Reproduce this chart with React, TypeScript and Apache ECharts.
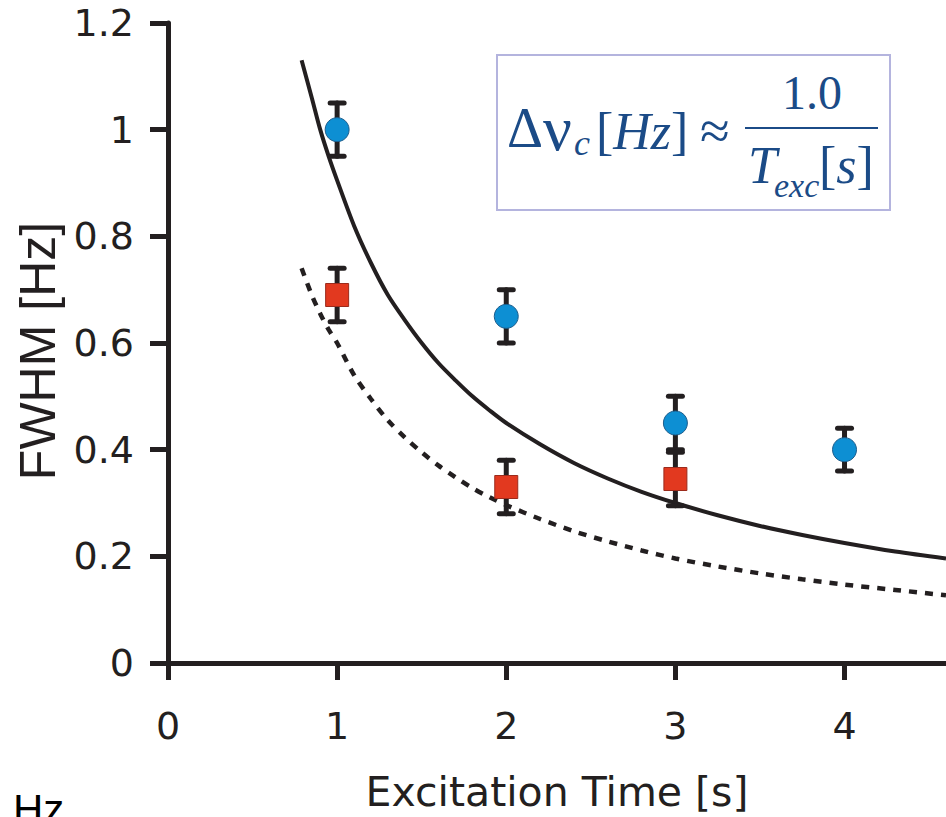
import React, { useEffect, useRef } from "react";
import * as echarts from "echarts";

// Measured points (excitation time in s, FWHM in Hz)
const blueX = [1, 2, 3, 4];
const blueY = [1.0, 0.65, 0.45, 0.4];
const blueErr = [0.05, 0.05, 0.05, 0.04];

const redX = [1, 2, 3];
const redY = [0.69, 0.33, 0.345];
const redErr = [0.05, 0.05, 0.05];

// Curves
const curveX = [0.79, 0.85, 0.9, 0.95, 1.0, 1.1, 1.2, 1.3, 1.4, 1.5, 1.6, 1.7, 1.8, 1.9, 2.0, 2.2, 2.4, 2.6, 2.8, 3.0, 3.25, 3.5, 3.75, 4.0, 4.3, 4.6];
const solidY = [1.13, 1.06, 1.0, 0.95, 0.905, 0.82, 0.75, 0.69, 0.643, 0.6, 0.562, 0.53, 0.5, 0.474, 0.45, 0.41, 0.375, 0.346, 0.321, 0.3, 0.277, 0.257, 0.24, 0.225, 0.209, 0.196];
const dashedY = [0.74, 0.69, 0.655, 0.625, 0.6, 0.54, 0.495, 0.455, 0.423, 0.395, 0.37, 0.348, 0.328, 0.311, 0.296, 0.27, 0.247, 0.228, 0.211, 0.196, 0.181, 0.168, 0.157, 0.147, 0.137, 0.127];

const xLabel = "Excitation Time [s]";
const yLabel = "FWHM [Hz]";

const ink = "#231f20";
const formulaColor = "#1b4b87";

function errorSeries(xs: number[], ys: number[], errs: number[]) {
  return xs.map((x, i) => [x, ys[i] - errs[i], ys[i] + errs[i]]);
}

export default function App() {
  const ref = useRef<HTMLDivElement>(null);

  useEffect(() => {
    document.body.style.margin = "0";
    const chart = echarts.init(ref.current!, undefined, { renderer: "svg" });

    const renderErr = (params: any, api: any) => {
      const x = api.value(0);
      const lo = api.value(1);
      const hi = api.value(2);
      const pLo = api.coord([x, lo]);
      const pHi = api.coord([x, hi]);
      const half = 7;
      const style = { stroke: ink, lineWidth: 5, lineCap: "round" };
      return {
        type: "group",
        children: [
          { type: "line", shape: { x1: pLo[0], y1: pLo[1], x2: pHi[0], y2: pHi[1] }, style },
          { type: "line", shape: { x1: pLo[0] - half, y1: pLo[1], x2: pLo[0] + half, y2: pLo[1] }, style },
          { type: "line", shape: { x1: pHi[0] - half, y1: pHi[1], x2: pHi[0] + half, y2: pHi[1] }, style },
        ],
      };
    };

    const serif = '"Liberation Serif", "Times New Roman", serif';

    chart.setOption({
      animation: false,
      backgroundColor: "#ffffff",
      grid: { left: 168, right: 0, top: 23, bottom: 154, containLabel: false },
      xAxis: {
        type: "value",
        min: 0,
        max: 4.6,
        interval: 1,
        name: xLabel,
        nameLocation: "middle",
        nameGap: 108,
        nameTextStyle: { fontFamily: "DejaVu Sans", fontSize: 41, lineHeight: 41, color: ink },
        axisLine: { lineStyle: { color: ink, width: 5 } },
        axisTick: { length: 17, lineStyle: { color: ink, width: 5 } },
        axisLabel: {
          fontFamily: "DejaVu Sans",
          fontSize: 38,
          lineHeight: 38,
          color: ink,
          margin: 44,
          showMaxLabel: false,
        },
        splitLine: { show: false },
      },
      yAxis: {
        type: "value",
        min: 0,
        max: 1.2,
        interval: 0.2,
        name: yLabel,
        nameLocation: "middle",
        nameGap: 98,
        nameTextStyle: {
          fontFamily: "Liberation Sans",
          fontSize: 50,
          lineHeight: 50,
          color: ink,
          padding: [0, 16, 0, 0],
        },
        axisLine: { show: true, lineStyle: { color: ink, width: 5 } },
        axisTick: { show: true, length: 18, lineStyle: { color: ink, width: 5 } },
        axisLabel: {
          fontFamily: "DejaVu Sans",
          fontSize: 38,
          lineHeight: 38,
          color: ink,
          margin: 34,
        },
        splitLine: { show: false },
      },
      series: [
        {
          type: "line",
          data: curveX.map((x, i) => [x, solidY[i]]),
          showSymbol: false,
          smooth: 0.3,
          lineStyle: { color: ink, width: 4 },
          z: 2,
        },
        {
          type: "line",
          data: curveX.map((x, i) => [x, dashedY[i]]),
          showSymbol: false,
          smooth: 0.3,
          lineStyle: { color: ink, width: 4.5, type: [8, 8] },
          z: 2,
        },
        {
          type: "custom",
          renderItem: renderErr,
          data: errorSeries(blueX, blueY, blueErr),
          encode: { x: 0, y: [1, 2] },
          z: 3,
        },
        {
          type: "custom",
          renderItem: renderErr,
          data: errorSeries(redX, redY, redErr),
          encode: { x: 0, y: [1, 2] },
          z: 3,
        },
        {
          type: "scatter",
          data: blueX.map((x, i) => [x, blueY[i]]),
          symbol: "circle",
          symbolSize: 24,
          itemStyle: { color: "#0d8fd3", borderColor: "#1d5d8c", borderWidth: 1, opacity: 1 },
          z: 4,
        },
        {
          type: "scatter",
          data: redX.map((x, i) => [x, redY[i]]),
          symbol: "rect",
          symbolSize: 23,
          itemStyle: { color: "#e2391f", borderColor: "#9b2b1c", borderWidth: 1, opacity: 1 },
          z: 4,
        },
      ],
      graphic: [
        {
          type: "rect",
          shape: { x: 497, y: 55, width: 393, height: 155 },
          style: { fill: "#ffffff", stroke: "#b4b4de", lineWidth: 2 },
          z: 10,
        },
        {
          type: "text",
          x: 507,
          y: 128,
          z: 11,
          style: {
            text: "{d|Δ}{v|ν}",
            fill: formulaColor,
            align: "left",
            verticalAlign: "middle",
            rich: {
              d: { fontFamily: serif, fontSize: 56, fill: formulaColor, color: formulaColor },
              v: { fontFamily: serif, fontSize: 64, fill: formulaColor, color: formulaColor },
            },
          },
        },
        {
          type: "text",
          x: 574,
          y: 143,
          z: 11,
          style: { text: "c", fontFamily: serif, fontStyle: "italic", fontSize: 36, fill: formulaColor, align: "left", verticalAlign: "middle" },
        },
        {
          type: "text",
          x: 596,
          y: 131,
          z: 11,
          style: {
            text: "{n|[}{i|Hz}{n|]}",
            fill: formulaColor,
            align: "left",
            verticalAlign: "middle",
            rich: {
              n: { fontFamily: serif, fontSize: 52, fill: formulaColor, color: formulaColor },
              i: { fontFamily: serif, fontSize: 52, fontStyle: "italic", fill: formulaColor, color: formulaColor },
            },
          },
        },
        {
          type: "text",
          x: 700,
          y: 131,
          z: 11,
          style: { text: "≈", fontFamily: serif, fontSize: 54, fill: formulaColor, align: "left", verticalAlign: "middle" },
        },
        {
          type: "line",
          z: 11,
          shape: { x1: 745, y1: 128, x2: 878, y2: 128 },
          style: { stroke: formulaColor, lineWidth: 2 },
        },
        {
          type: "text",
          x: 812,
          y: 92,
          z: 11,
          style: { text: "1.0", fontFamily: serif, fontSize: 48, fill: formulaColor, align: "center", verticalAlign: "middle" },
        },
        {
          type: "text",
          x: 748,
          y: 165,
          z: 11,
          style: { text: "T", fontFamily: serif, fontStyle: "italic", fontSize: 52, fill: formulaColor, align: "left", verticalAlign: "middle" },
        },
        {
          type: "text",
          x: 774,
          y: 185,
          z: 11,
          style: { text: "exc", fontFamily: serif, fontStyle: "italic", fontSize: 34, fill: formulaColor, align: "left", verticalAlign: "middle" },
        },
        {
          type: "text",
          x: 819,
          y: 165,
          z: 11,
          style: {
            text: "{n|[}{i|s}{n|]}",
            fill: formulaColor,
            align: "left",
            verticalAlign: "middle",
            rich: {
              n: { fontFamily: serif, fontSize: 52, fill: formulaColor, color: formulaColor },
              i: { fontFamily: serif, fontSize: 52, fontStyle: "italic", fill: formulaColor, color: formulaColor },
            },
          },
        },
        {
          type: "text",
          x: 13,
          y: 809,
          z: 11,
          style: { text: "Hz", fontFamily: "Liberation Sans", fontSize: 42, fill: "#000000", align: "left", verticalAlign: "middle" },
        },
      ],
    });

    return () => chart.dispose();
  }, []);

  return (
    <div
      ref={ref}
      style={{ position: "absolute", left: 0, top: 0, width: 946, height: 817, background: "#fff" }}
    />
  );
}
